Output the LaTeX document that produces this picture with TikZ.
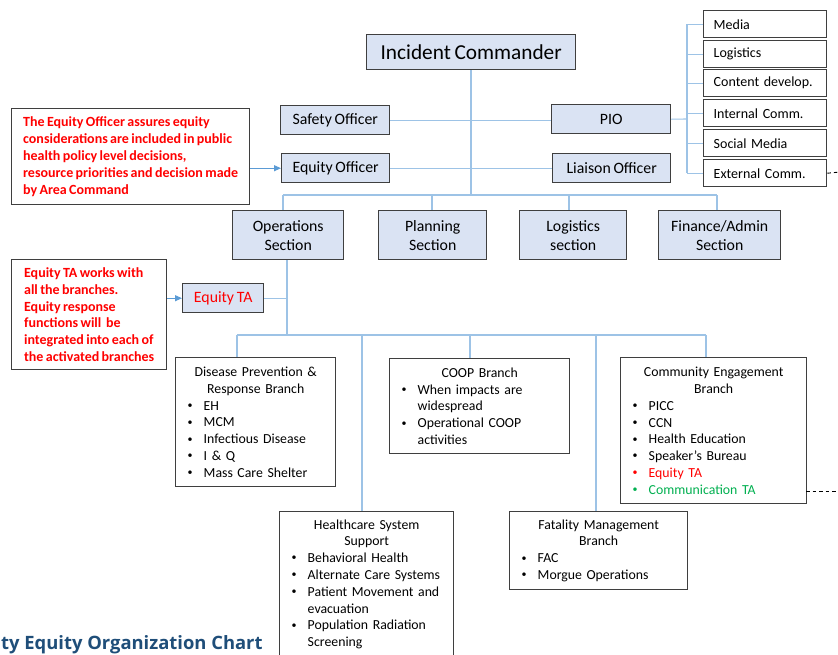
\documentclass[tikz,border=0pt]{standalone}
\usepackage{fontspec}
\setmainfont{Carlito}[WordSpace=0.75]
\newfontfamily\titlefont{Open Sans}
\usetikzlibrary{arrows.meta,calc}
\definecolor{boxfill}{HTML}{DAE3F3}
\definecolor{boxline}{HTML}{3F3F3F}
\definecolor{connc}{HTML}{9DC3E6}
\definecolor{arrowblue}{HTML}{5B9BD5}
\definecolor{noteRed}{HTML}{FF0000}
\definecolor{commGreen}{HTML}{00B050}
\definecolor{titleBlue}{HTML}{1F4E79}
\newcommand{\sbul}{\raisebox{0.12em}{\fontsize{10}{10}\selectfont\textbullet}}
\newcommand{\bl}[1]{\hspace*{12pt}\makebox[16pt][l]{\sbul}#1}
\newcommand{\cbl}[2]{\hspace*{12pt}\makebox[16pt][l]{\textcolor{#1}{\sbul}}\textcolor{#1}{#2}}
\newcommand{\cnt}[1]{\hspace*{28pt}#1}
\newcommand{\hd}[2]{\makebox[#1pt][c]{#2}}
\begin{document}
\begin{tikzpicture}[x=1pt,y=-1pt,
  hbox/.style={draw=boxline, line width=1.4pt, fill=boxfill, inner sep=0pt, anchor=north west, align=center, font=\fontsize{15.8}{19}\selectfont},
  subbox/.style={draw=boxline, line width=1.4pt, fill=white, inner xsep=10pt, inner ysep=0pt, anchor=north west, align=left, text width=103pt, minimum height=27pt, font=\fontsize{14}{16}\selectfont},
  brbox/.style={draw=boxline, line width=1.4pt, fill=white, inner sep=0pt, anchor=north west, align=left, font=\fontsize{13.8}{16.8}\selectfont},
  notebox/.style={draw=boxline, line width=1.4pt, fill=white, inner sep=0pt, anchor=north west, align=left, text=noteRed, font=\bfseries\fontsize{14}{16.8}\selectfont},
  conn/.style={draw=connc, line width=1.1pt},
  blarrow/.style={draw=arrowblue, line width=1.1pt, -{Triangle[length=7pt,width=6pt]}},
  dashln/.style={draw=black, line width=0.9pt, dash pattern=on 3.5pt off 3pt}
]
\useasboundingbox (0,0) rectangle (838,654);
\clip (0,0) rectangle (838,654);

% ---------- nodes ----------
\node[hbox, minimum width=209, minimum height=35, font=\fontsize{21.3}{24}\selectfont] (ic) at (366,34) {Incident Commander};
\node[hbox, minimum width=109, minimum height=29] (safety) at (280,105) {Safety Officer};
\node[hbox, minimum width=108, minimum height=29] (eqo) at (281,153) {Equity Officer};
\node[hbox, minimum width=119, minimum height=29] (pio) at (551,104) {PIO};
\node[hbox, minimum width=118, minimum height=29] (liaison) at (552,153) {Liaison Officer};

\node[subbox] (media) at (703,10) {Media};
\node[subbox] (plog) at (703,40) {Logistics};
\node[subbox] (content) at (703,69) {Content develop.};
\node[subbox] (internal) at (703,99) {Internal Comm.};
\node[subbox] (social) at (703,129) {Social Media};
\node[subbox] (extc) at (703,159) {External Comm.};

\node[notebox, minimum width=238, minimum height=96] (note1) at (11,108) {The Equity Officer assures equity\\considerations are included in public\\health policy level decisions,\\resource priorities and decision made\\by Area Command};

\node[hbox, minimum width=111, minimum height=49] (ops) at (232,210) {Operations\\Section};
\node[hbox, minimum width=108, minimum height=49] (plan) at (378,210) {Planning\\Section};
\node[hbox, minimum width=107, minimum height=49] (logs) at (519,210) {Logistics\\section};
\node[hbox, minimum width=122, minimum height=49] (fin) at (658,210) {Finance/Admin\\Section};

\node[notebox, minimum width=155, minimum height=110] (note2) at (11,259) {Equity TA works with\\all the branches.\\Equity response\\functions will\ \ be\\integrated into each of\\the activated branches};
\node[hbox, minimum width=81, minimum height=29, text=noteRed] (eqta) at (182,283) {Equity TA};

\node[brbox, text width=160, minimum height=129] (disease) at (175,357) {\hd{160}{Disease Prevention \&}\\\hd{160}{Response Branch}\\\bl{EH}\\\bl{MCM}\\\bl{Infectious Disease}\\\bl{I \& Q}\\\bl{Mass Care Shelter}};
\node[brbox, text width=180, minimum height=95] (coop) at (389,358) {\hd{180}{COOP Branch}\\\bl{When impacts are}\\\cnt{widespread}\\\bl{Operational COOP}\\\cnt{activities}};
\node[brbox, text width=186, minimum height=146] (comm) at (620,357) {\hd{186}{Community Engagement}\\\hd{186}{Branch}\\\bl{PICC}\\\bl{CCN}\\\bl{Health Education}\\\bl{Speaker’s Bureau}\\\cbl{noteRed}{Equity TA}\\\cbl{commGreen}{Communication TA}};
\node[brbox, text width=174, minimum height=145] (health) at (279,511) {\hd{174}{Healthcare System}\\\hd{174}{Support}\\\bl{Behavioral Health}\\\bl{Alternate Care Systems}\\\bl{Patient Movement and}\\\cnt{evacuation}\\\bl{Population Radiation}\\\cnt{Screening}};
\node[brbox, text width=178, minimum height=78] (fatal) at (509,511) {\hd{178}{Fatality Management}\\\hd{178}{Branch}\\\bl{FAC}\\\bl{Morgue Operations}};

\node[anchor=base west, inner sep=0pt, text=titleBlue, font=\titlefont\bfseries\fontsize{18.4}{22}\selectfont] (title) at (1,649) {ty Equity Organization Chart};

% ---------- coordinates ----------
\coordinate (icbar) at (471,195);
\coordinate (barL) at (283,195);
\coordinate (barR) at (717,195);
\coordinate (bplan) at (432,195);
\coordinate (blogs) at (569,195);
\coordinate (bus) at (687,119);
\coordinate (opsd) at (287,335);
\coordinate (b2L) at (237,335);
\coordinate (b2h) at (362,335);
\coordinate (b2c) at (470,335);
\coordinate (b2f) at (596,335);
\coordinate (b2R) at (706,335);
\coordinate (dash1) at (840,172);
\coordinate (c2s) at (806,491);
\coordinate (dash2) at (840,491);

% ---------- connectors ----------
\draw[conn] (ic.south -| icbar) -- (icbar);
\draw[conn] (safety.east) -- (safety.east -| pio.west);
\draw[conn] (eqo.east) -- (eqo.east -| liaison.west);
\draw[conn] (barL) -- (barR);
\draw[conn] (barL) -- (barL |- ops.north);
\draw[conn] (bplan) -- (bplan |- plan.north);
\draw[conn] (blogs) -- (blogs |- logs.north);
\draw[conn] (barR) -- (barR |- fin.north);

\draw[conn] (pio.east) -- (bus);
\draw[conn] (bus |- media.west) -- (bus |- extc.west);
\foreach \n in {media,plog,content,internal,social,extc}
  \draw[conn] (bus |- \n.west) -- (\n.west);

\draw[conn] (ops.south -| opsd) -- (opsd);
\draw[conn] (eqta.east) -- (eqta.east -| opsd);
\draw[conn] (b2L) -- (b2R);
\draw[conn] (b2L) -- (b2L |- disease.north);
\draw[conn] (b2h) -- (b2h |- health.north);
\draw[conn] (b2c) -- (b2c |- coop.north);
\draw[conn] (b2f) -- (b2f |- fatal.north);
\draw[conn] (b2R) -- (b2R |- comm.north);

\draw[blarrow] (eqo.west -| note1.east) -- (eqo.west);
\draw[blarrow] (eqta.west -| note2.east) -- (eqta.west);

\draw[dashln] (extc.east) -- (dash1);
\draw[dashln] (c2s) -- (dash2);
\end{tikzpicture}
\end{document}
